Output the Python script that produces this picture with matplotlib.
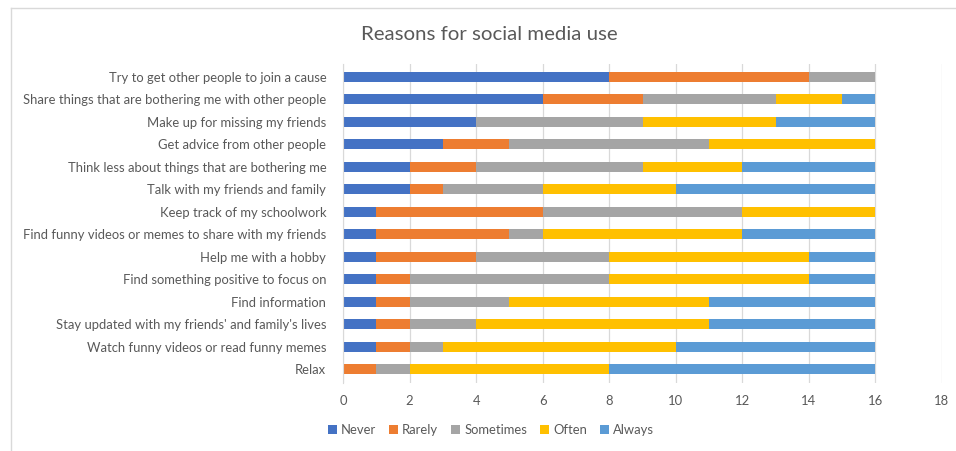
import matplotlib.pyplot as plt
import numpy as np
from matplotlib.lines import Line2D

# Categories top to bottom
categories = [
    "Try to get other people to join a cause",
    "Share things that are bothering me with other people",
    "Make up for missing my friends",
    "Get advice from other people",
    "Think less about things that are bothering me",
    "Talk with my friends and family",
    "Keep track of my schoolwork",
    "Find funny videos or memes to share with my friends",
    "Help me with a hobby",
    "Find something positive to focus on",
    "Find information",
    "Stay updated with my friends' and family's lives",
    "Watch funny videos or read funny memes",
    "Relax",
]
never = [8, 6, 4, 3, 2, 2, 1, 1, 1, 1, 1, 1, 1, 0]
rarely = [6, 3, 0, 2, 2, 1, 5, 4, 3, 1, 1, 1, 1, 1]
sometimes = [2, 4, 5, 6, 5, 3, 6, 1, 4, 6, 3, 2, 1, 1]
often = [0, 2, 4, 5, 3, 4, 4, 6, 6, 6, 6, 7, 7, 6]
always = [0, 1, 3, 0, 4, 6, 0, 4, 2, 2, 5, 5, 6, 8]

series_names = ["Never", "Rarely", "Sometimes", "Often", "Always"]
colors = ["#4472C4", "#ED7D31", "#A5A5A5", "#FFC000", "#5B9BD5"]

plt.rcParams['font.family'] = ['Lato', 'DejaVu Sans']
text_color = "#595959"

fig = plt.figure(figsize=(9.56, 4.51), dpi=100)
ax = fig.add_axes([343 / 956, 1 - 382.5 / 451, (942 - 343) / 956, (382.5 - 63.5) / 451])

y = np.arange(len(categories))[::-1]
left = np.zeros(len(categories))
for name, vals, c in zip(series_names, [never, rarely, sometimes, often, always], colors):
    ax.barh(y, vals, left=left, height=0.45, color=c, label=name)
    left += np.array(vals)

ax.set_xlim(0, 18)
ax.set_ylim(-0.6, len(categories) - 0.4)
ax.set_xticks(range(0, 19, 2))
ax.set_yticks(y)
ax.set_yticklabels(categories)
ax.tick_params(axis='both', length=0, labelsize=9.4, colors=text_color)
ax.tick_params(axis='y', pad=12)
ax.tick_params(axis='x', pad=9)
ax.grid(axis='x', color="#D9D9D9", linewidth=0.9)
ax.set_axisbelow(True)
for s in ['top', 'right', 'bottom']:
    ax.spines[s].set_visible(False)
ax.spines['left'].set_color("#D9D9D9")

fig.text(489 / 956, 1 - 35 / 451, "Reasons for social media use", ha='center', va='center',
         fontsize=14.7, color=text_color)

ax.legend(loc='center', ncol=5, frameon=False, fontsize=9.4,
          handlelength=0.7, handleheight=0.7,
          columnspacing=1.0, handletextpad=0.3, labelcolor=text_color,
          bbox_to_anchor=(491 / 956, 1 - 430 / 451), bbox_transform=fig.transFigure)

# chart frame: only the top and left edges are visible in the crop
bx, by = 10.5 / 956, 1 - 7.5 / 451
fig.add_artist(Line2D([bx, 1], [by, by], transform=fig.transFigure, color="#D9D9D9", linewidth=1))
fig.add_artist(Line2D([bx, bx], [0, by], transform=fig.transFigure, color="#D9D9D9", linewidth=1))

fig.savefig("out.png", dpi=100)
